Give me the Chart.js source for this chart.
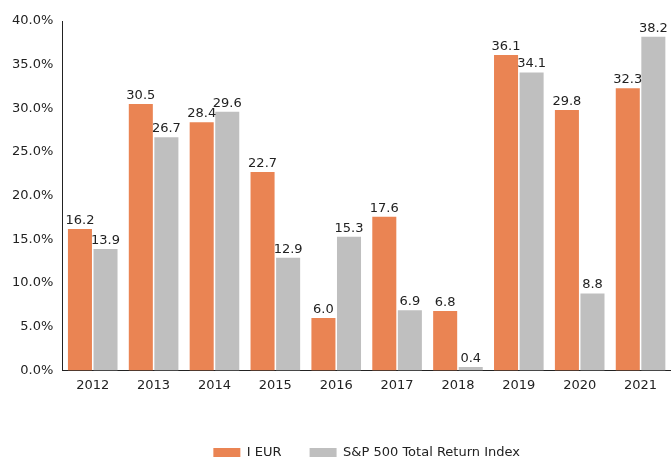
<!DOCTYPE html>
<html>
<head>
<meta charset="utf-8">
<script src="https://cdn.jsdelivr.net/npm/chart.js@4"></script>
<style>
  html, body { margin: 0; padding: 0; background: #fff; overflow: hidden; }
  #wrap { width: 671px; height: 458px; }
</style>
</head>
<body>
<div id="wrap"><canvas id="barChart" width="671" height="458"></canvas></div>
<script>
const years = ['2012', '2013', '2014', '2015', '2016', '2017', '2018', '2019', '2020', '2021'];
const iEur = [16.2, 30.5, 28.4, 22.7, 6.0, 17.6, 6.8, 36.1, 29.8, 32.3];
const spTotal = [13.9, 26.7, 29.6, 12.9, 15.3, 6.9, 0.4, 34.1, 8.8, 38.2];

// labels above each bar
const barValues = {
    id: 'barValues',
    afterDatasetsDraw(chart) {
        const ctx = chart.ctx;
        ctx.save();
        ctx.font = '13px "DejaVu Sans"';
        ctx.fillStyle = '#222';
        ctx.textAlign = 'center';
        ctx.textBaseline = 'bottom';
        chart.data.datasets.forEach((ds, i) => {
            chart.getDatasetMeta(i).data.forEach((bar, j) => {
                ctx.fillText(ds.data[j].toFixed(1), bar.x, bar.y - 2);
            });
        });
        ctx.restore();
    }
};

Chart.defaults.font.family = '"DejaVu Sans"';
Chart.defaults.font.size = 13;
Chart.defaults.color = '#222';

new Chart(document.getElementById('barChart').getContext('2d'), {
    type: 'bar',
    data: {
        labels: years,
        datasets: [{
            label: 'I EUR',
            data: iEur,
            backgroundColor: '#EA8453',
            categoryPercentage: 0.84,
            barPercentage: 0.94
        }, {
            label: 'S&P 500 Total Return Index',
            data: spTotal,
            backgroundColor: '#BFBFBF',
            categoryPercentage: 0.84,
            barPercentage: 0.94
        }]
    },
    options: {
        responsive: false,
        animation: false,
        layout: { padding: { top: 21, right: 0, left: 8, bottom: -11 } },
        scales: {
            x: {
                grid: { display: false, drawTicks: true, tickLength: 5, tickColor: '#222' },
                border: { color: '#222', width: 1 },
                ticks: { padding: 2 },
                afterFit(scale) { scale.height += 23; }
            },
            y: {
                min: 0,
                max: 40,
                ticks: {
                    stepSize: 5,
                    padding: 4,
                    callback: v => v.toFixed(1) + '%'
                },
                grid: { display: false, drawTicks: true, tickLength: 5, tickColor: '#222' },
                border: { color: '#222', width: 1 }
            }
        },
        plugins: {
            legend: {
                position: 'bottom',
                fullSize: false,
                labels: {
                    boxWidth: 27,
                    boxHeight: 9,
                    padding: 28,
                    color: '#222'
                }
            },
            tooltip: { enabled: false }
        }
    },
    plugins: [barValues]
});
</script>
</body>
</html>
